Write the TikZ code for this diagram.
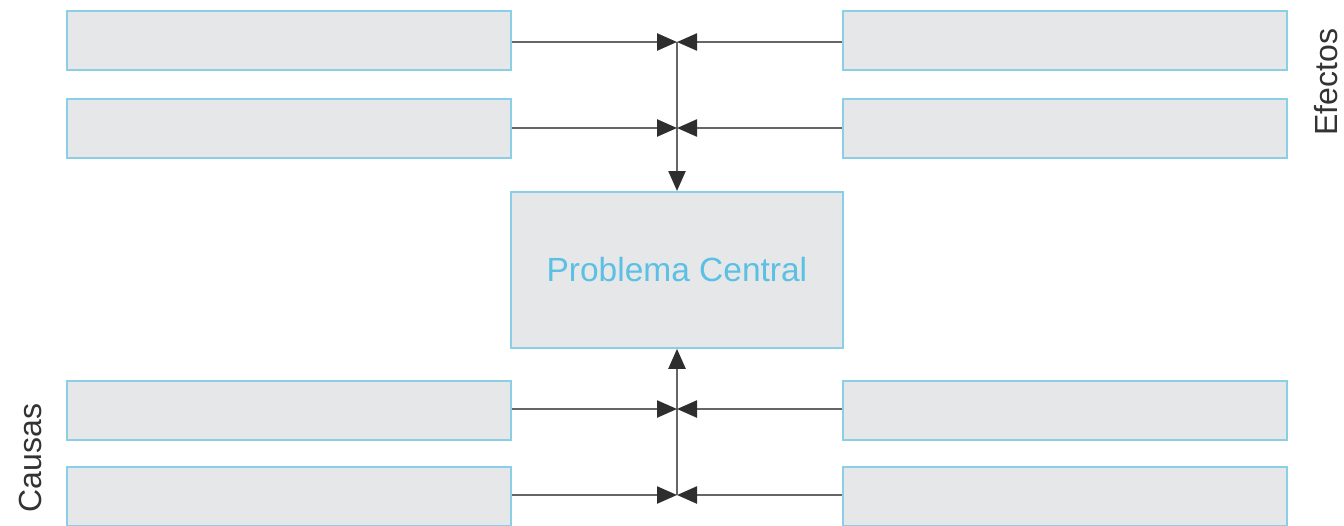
\documentclass[tikz,border=0pt]{standalone}
\usepackage{fontspec}
\setmainfont{Liberation Sans}
\usetikzlibrary{arrows.meta}
\definecolor{boxfill}{HTML}{E6E7E9}
\definecolor{boxedge}{HTML}{8ACFE6}
\definecolor{txtblue}{HTML}{5BC0E3}
\definecolor{linegray}{HTML}{666666}
\definecolor{tipgray}{HTML}{2E2E2E}
\tikzset{
  box/.style={draw=boxedge, fill=boxfill, line width=1.8pt, minimum width=444pt, minimum height=59pt, inner sep=0pt, anchor=north west},
  cbox/.style={draw=boxedge, fill=boxfill, line width=1.8pt, minimum width=332pt, minimum height=156pt, inner sep=0pt, anchor=north west, text=txtblue, font=\fontsize{33.5}{38}\selectfont},
  conn/.style={draw=linegray, line width=2.4pt, -{Triangle[length=20pt,width=17pt,fill=tipgray,color=tipgray]}},
  side/.style={font=\fontsize{32}{36}\selectfont, text=black!80, rotate=90, inner sep=0pt}
}
\begin{document}
\begin{tikzpicture}[x=1pt,y=-1pt]
\useasboundingbox (0,0) rectangle (1344,525);
% boxes
\node[box] (L1) at (66,10) {};
\node[box] (L2) at (66,98) {};
\node[box] (L3) at (66,380) {};
\node[box] (L4) at (66,466) {};
\node[box] (R1) at (842,10) {};
\node[box] (R2) at (842,98) {};
\node[box] (R3) at (842,380) {};
\node[box] (R4) at (842,466) {};
\node[cbox] (C) at (510,191) {Problema Central};
% junctions
\coordinate (J1) at (677,42);
\coordinate (J2) at (677,128);
\coordinate (J3) at (677,409);
\coordinate (J4) at (677,495);
% vertical lines
\draw[conn] (J1) -- (C.north -| J1);
\draw[conn] (J4) -- (C.south -| J4);
% horizontal arrows
\foreach \i in {1,2,3,4} {
  \draw[conn] (L\i.east |- J\i) -- (J\i);
  \draw[conn] (R\i.west |- J\i) -- (J\i);
}
% side labels
\node[side] (E) at (1326,82) {Efectos};
\node[side] (K) at (30,458) {Causas};
\end{tikzpicture}
\end{document}
